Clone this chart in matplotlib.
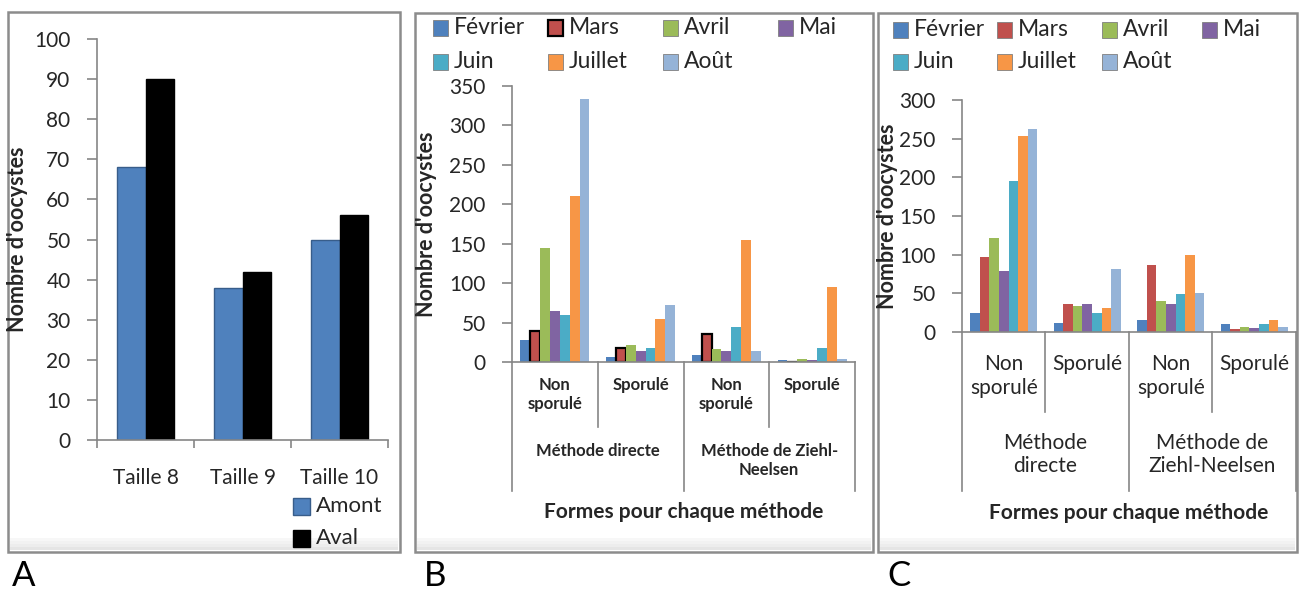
import matplotlib
matplotlib.use('Agg')
import matplotlib.pyplot as plt
from matplotlib.patches import Rectangle
from matplotlib.lines import Line2D
import numpy as np

plt.rcParams['font.family'] = ['Lato', 'DejaVu Sans']

# ---------------- data ----------------
tailles = ['Taille 8', 'Taille 9', 'Taille 10']
amont = [68, 38, 50]
aval = [90, 42, 56]

mois = ['Février', 'Mars', 'Avril', 'Mai', 'Juin', 'Juillet', 'Août']
formes = ['Non\nsporulé', 'Sporulé', 'Non\nsporulé', 'Sporulé']
methodes_B = ['Méthode directe', 'Méthode de Ziehl-\nNeelsen']
methodes_C = ['Méthode\ndirecte', 'Méthode de\nZiehl-Neelsen']

# panel B, one list per month, values for the 4 forms
fev_B = [28, 6, 9, 2]
mars_B = [39, 18, 36, 0]
avril_B = [145, 21, 17, 4]
mai_B = [65, 14, 14, 3]
juin_B = [60, 18, 44, 18]
juil_B = [211, 54, 155, 95]
aout_B = [334, 72, 14, 4]

# panel C
fev_C = [24, 12, 16, 10]
mars_C = [97, 36, 87, 4]
avril_C = [121, 33, 40, 7]
mai_C = [79, 36, 36, 5]
juin_C = [195, 25, 49, 10]
juil_C = [253, 31, 100, 15]
aout_C = [263, 82, 51, 7]

series_B = [fev_B, mars_B, avril_B, mai_B, juin_B, juil_B, aout_B]
series_C = [fev_C, mars_C, avril_C, mai_C, juin_C, juil_C, aout_C]

couleurs = ['#4F81BD', '#C0504D', '#9BBB59', '#8064A2', '#4BACC6', '#F79646', '#95B3D7']

# ---------------- layout helpers ----------------
W, H = 1301, 594
fig = plt.figure(figsize=(W / 100, H / 100), dpi=100)
fig.patch.set_facecolor('white')


def fx(x):
    return x / W


def fy(y):
    return 1 - y / H


def add_axes_px(left, top, right, bottom):
    return fig.add_axes([fx(left), fy(bottom), (right - left) / W, (bottom - top) / H])


AXC = '#868686'
TXT = '#262626'


def style_axes(ax, ymax, step, tick_fs):
    ax.set_ylim(0, ymax)
    ax.set_yticks(np.arange(0, ymax + 1, step))
    for s in ['top', 'right']:
        ax.spines[s].set_visible(False)
    for s in ['left', 'bottom']:
        ax.spines[s].set_color(AXC)
        ax.spines[s].set_linewidth(1.2)
    ax.tick_params(axis='y', direction='out', length=7, width=1.2, color=AXC,
                   labelsize=tick_fs, labelcolor=TXT, pad=12)
    ax.set_facecolor('none')


def frame(left, top, right, bottom):
    # soft shadow band along the bottom, then the grey border
    for k, a in enumerate([0.10, 0.07, 0.05, 0.03]):
        fig.add_artist(Rectangle((fx(left + 2), fy(bottom - 2 - 3 * k)), (right - left - 4) / W, 3 / H,
                                 transform=fig.transFigure, facecolor='black', alpha=a,
                                 edgecolor='none', zorder=0))
    fig.add_artist(Rectangle((fx(left), fy(bottom)), (right - left) / W, (bottom - top) / H,
                             transform=fig.transFigure, fill=False,
                             edgecolor='#8c8c8c', linewidth=1.8, zorder=0))


def legend_entry(x_px, y_px, label, color, edge, fs, sq=15, lw=1.0):
    fig.add_artist(Rectangle((fx(x_px), fy(y_px + sq / 2)), sq / W, sq / H,
                             transform=fig.transFigure, facecolor=color,
                             edgecolor=edge, linewidth=lw))
    fig.text(fx(x_px + sq + 6), fy(y_px), label, ha='left', va='center',
             fontsize=fs, color=TXT)


# ---------------- panel A ----------------
frame(8, 12, 400, 552)
axA = add_axes_px(97, 39, 388, 440)
style_axes(axA, 100, 10, 15)
xa = np.arange(len(tailles))
wa = 0.29
axA.bar(xa - wa / 2, amont, wa, color='#4F81BD', edgecolor='#385D8A', linewidth=1)
axA.bar(xa + wa / 2, aval, wa, color='black', edgecolor='black', linewidth=1)
axA.set_xlim(-0.5, len(tailles) - 0.5)
axA.set_xticks(xa)
axA.set_xticklabels(tailles)
axA.tick_params(axis='x', length=0, labelsize=15, labelcolor=TXT, pad=20)
axA.set_xticks(np.arange(-0.5, len(tailles)), minor=True)
axA.tick_params(axis='x', which='minor', direction='out', length=6, width=1.2, color=AXC)
axA.set_ylabel("Nombre d'oocystes", fontsize=15.5, fontweight='bold', color=TXT)
axA.yaxis.set_label_coords((28 - 97) / 291, 0.5)
legend_entry(293, 506, 'Amont', '#4F81BD', '#385D8A', 16, sq=17)
legend_entry(293, 538, 'Aval', 'black', 'black', 16, sq=17)
fig.text(fx(12), fy(586), 'A', fontsize=25, color='black', ha='left', va='baseline')


# ---------------- grouped multi-level panels ----------------
def grouped_panel(series, edges, left, top, right, bottom, ymax, step,
                  cat_fs, cat_weight, cat_y1, methodes, meth_y, meth_fs, meth_weight,
                  cat_line_end, meth_line_end, xlabel_y, ylab_x):
    ax = add_axes_px(left, top, right, bottom)
    style_axes(ax, ymax, step, 15)
    n = len(formes)
    x = np.arange(n)
    w = 0.115
    for i, (vals, col) in enumerate(zip(series, couleurs)):
        ec, lw = edges[i]
        ax.bar(x + (i - 3) * w, vals, w, color=col, edgecolor=ec, linewidth=lw)
    ax.set_xlim(-0.5, n - 0.5)
    ax.set_xticks([])
    hpx = bottom - top

    def yf(ypx):
        return (bottom - ypx) / hpx

    tr = ax.get_xaxis_transform()
    for xi, lab in zip(x, formes):
        ax.text(xi, yf(cat_y1), lab, transform=tr, ha='center', va='top',
                fontsize=cat_fs, fontweight=cat_weight, color=TXT, linespacing=1.25)
    for j, lab in enumerate(methodes):
        ax.text(2 * j + 0.5, yf(meth_y), lab, transform=tr, ha='center', va='top',
                fontsize=meth_fs, fontweight=meth_weight, color=TXT, linespacing=1.2)
    for b in [0.5, 2.5]:
        ax.add_line(Line2D([b, b], [0, yf(cat_line_end)], transform=tr, color=AXC,
                           linewidth=1.2, clip_on=False))
    for b in [-0.5, 1.5, 3.5]:
        ax.add_line(Line2D([b, b], [0, yf(meth_line_end)], transform=tr, color=AXC,
                           linewidth=1.2, clip_on=False))
    ax.text(1.5, yf(xlabel_y), 'Formes pour chaque méthode', transform=tr,
            ha='center', va='center', fontsize=15, fontweight='bold', color=TXT)
    ax.set_ylabel("Nombre d'oocystes", fontsize=15.5, fontweight='bold', color=TXT)
    ax.yaxis.set_label_coords((ylab_x - left) / (right - left), 0.5)
    return ax


# ---------------- panel B ----------------
frame(415, 13, 873, 552)
edges_B = [('none', 0)] * 7
edges_B[1] = ('black', 1.6)
grouped_panel(series_B, edges_B, 512, 86, 855, 362, 350, 50,
              12, 'bold', 377, methodes_B, 443, 12, 'bold',
              427, 491, 512, 437)
leg_x_B = [433, 548, 663, 778]
for i, m in enumerate(mois):
    r, c = divmod(i, 4)
    ec = 'black' if m == 'Mars' else '#7f7f7f'
    lwid = 1.6 if m == 'Mars' else 0.6
    legend_entry(leg_x_B[c], 28 + r * 34, m, couleurs[i], ec, 16.5, lw=lwid)
fig.text(fx(424), fy(586), 'B', fontsize=25, color='black', ha='left', va='baseline')

# ---------------- panel C ----------------
frame(878, 13, 1297, 552)
edges_C = [('none', 0)] * 7
grouped_panel(series_C, edges_C, 962, 100, 1296, 332, 300, 50,
              15, 'normal', 354, methodes_C, 433, 15, 'normal',
              412, 491, 513, 898)
leg_x_C = [893, 997, 1102, 1202]
for i, m in enumerate(mois):
    r, c = divmod(i, 4)
    legend_entry(leg_x_C[c], 30 + r * 32, m, couleurs[i], '#7f7f7f', 16.5, lw=0.6)
fig.text(fx(887), fy(586), 'C', fontsize=25, color='black', ha='left', va='baseline')

fig.savefig('out.png', dpi=100, facecolor='white')
